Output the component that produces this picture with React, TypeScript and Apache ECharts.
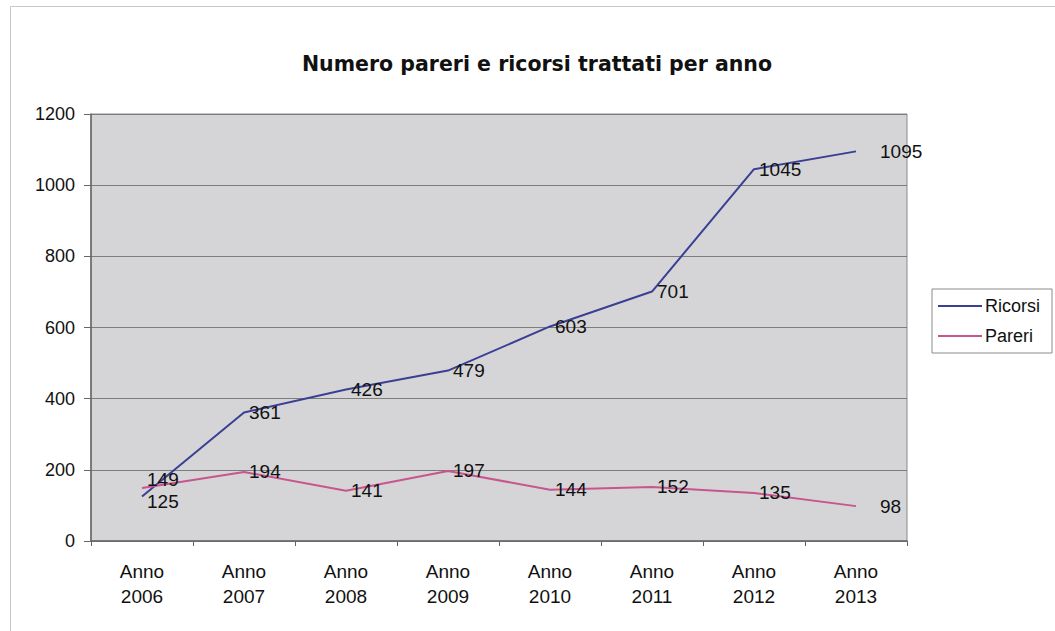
import React, { useEffect, useRef } from "react";
import * as echarts from "echarts";

const categories = ["Anno\n2006", "Anno\n2007", "Anno\n2008", "Anno\n2009", "Anno\n2010", "Anno\n2011", "Anno\n2012", "Anno\n2013"];
const ricorsi = [125, 361, 426, 479, 603, 701, 1045, 1095];
const pareri = [149, 194, 141, 197, 144, 152, 135, 98];
const yTicks = { min: 0, max: 1200, interval: 200 };
const titleText = "Numero pareri e ricorsi trattati per anno";

const FONT = "'Liberation Sans', Arial, sans-serif";

export default function App() {
  const ref = useRef<HTMLDivElement>(null);
  useEffect(() => {
    if (!ref.current) return;
    const chart = echarts.init(ref.current, null, { renderer: "svg" });
    const mkData = (arr: number[], firstOffsetY: number) =>
      arr.map((v, i) => {
        if (i === arr.length - 1) return { value: v, label: { distance: 24 } };
        if (i === 0) return { value: v, label: { offset: [0, firstOffsetY] } };
        return v;
      });
    const labelStyle = { show: true, position: "right", distance: 5, fontFamily: FONT, fontSize: 19, color: "#111" };
    chart.setOption({
      animation: false,
      backgroundColor: "#ffffff",
      textStyle: { fontFamily: FONT },
      title: {
        text: titleText,
        left: 532,
        top: 48,
        textAlign: "center",
        textStyle: { fontFamily: "'DejaVu Sans', sans-serif", fontSize: 20.5, fontWeight: "bold", color: "#111" },
      },
      graphic: [
        {
          type: "rect",
          shape: { x: 10.5, y: 6.5, width: 1060, height: 640 },
          style: { fill: "none", stroke: "#c8c8c8", lineWidth: 1 },
          silent: true,
          z: -10,
        },
      ],
      legend: {
        orient: "vertical",
        left: 932,
        top: 289,
        data: ["Ricorsi", "Pareri"],
        icon: "rect",
        itemWidth: 44,
        itemHeight: 2,
        itemGap: 12,
        borderColor: "#8a8a8a",
        borderWidth: 1,
        padding: [8, 12, 8, 6],
        textStyle: { fontFamily: FONT, fontSize: 18, color: "#111", padding: [0, 0, 0, -2] },
      },
      grid: { left: 91, right: 148, top: 114, bottom: 90, show: true, backgroundColor: "#d5d5d8", borderColor: "#8a8a8a", borderWidth: 1 },
      xAxis: {
        type: "category",
        data: categories,
        boundaryGap: true,
        axisLine: { lineStyle: { color: "#666", width: 1.5 } },
        axisTick: { show: true, length: 5, lineStyle: { color: "#666" } },
        axisLabel: { fontFamily: FONT, fontSize: 19, color: "#111", margin: 18, lineHeight: 25 },
      },
      yAxis: {
        type: "value",
        min: yTicks.min,
        max: yTicks.max,
        interval: yTicks.interval,
        axisLine: { show: true, lineStyle: { color: "#666", width: 1.5 } },
        axisTick: { show: true, length: 7, lineStyle: { color: "#666" } },
        axisLabel: { fontFamily: FONT, fontSize: 18, color: "#111", margin: 16, formatter: (v: number) => String(v) },
        splitLine: { lineStyle: { color: "#7d7d7d", width: 1 } },
      },
      series: [
        {
          name: "Ricorsi",
          type: "line",
          data: mkData(ricorsi, 5),
          symbol: "circle",
          symbolSize: 0,
          lineStyle: { color: "#3b3f94", width: 2 },
          itemStyle: { color: "#3b3f94" },
          label: labelStyle,
        },
        {
          name: "Pareri",
          type: "line",
          data: mkData(pareri, -8),
          symbol: "circle",
          symbolSize: 0,
          lineStyle: { color: "#c8558e", width: 2 },
          itemStyle: { color: "#c8558e" },
          label: labelStyle,
        },
      ],
    });
    return () => chart.dispose();
  }, []);
  return (
    <div
      ref={ref}
      style={{ position: "absolute", left: 0, top: 0, width: 1055, height: 631 }}
    />
  );
}
